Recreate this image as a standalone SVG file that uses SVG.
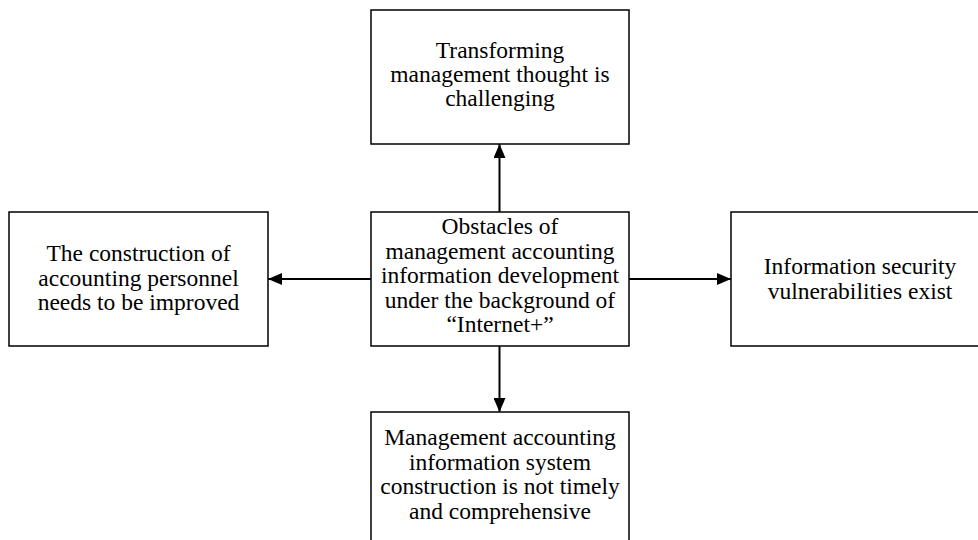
<svg xmlns="http://www.w3.org/2000/svg" width="978" height="540" viewBox="0 0 978 540">
<defs>
<style>
.box{fill:#fff;stroke:#000;stroke-width:1.5}
.t{font-family:"Liberation Serif","Times New Roman",serif;font-size:23.5px;fill:#000;text-anchor:middle}
.c{stroke:#000;stroke-width:2;fill:none}
</style>
<marker id="ah" viewBox="0 0 14 12" refX="14" refY="6" markerWidth="14" markerHeight="12" markerUnits="userSpaceOnUse" orient="auto">
<path d="M0,0 L14,6 L0,12 Z" fill="#000"/>
</marker>
</defs>
<rect width="978" height="540" fill="#fff"/>
<g id="connectors">
<line class="c" x1="499.5" y1="212" x2="499.5" y2="144" marker-end="url(#ah)"/>
<line class="c" x1="499.5" y1="346" x2="499.5" y2="412" marker-end="url(#ah)"/>
<line class="c" x1="371" y1="279" x2="268" y2="279" marker-end="url(#ah)"/>
<line class="c" x1="629" y1="279" x2="731" y2="279" marker-end="url(#ah)"/>
</g>
<g id="top">
<rect class="box" x="371" y="10" width="258" height="134"/>
<text class="t" x="500" y="58">Transforming</text>
<text class="t" x="500" y="82">management thought is</text>
<text class="t" x="500" y="106">challenging</text>
</g>
<g id="center">
<rect class="box" x="371" y="212" width="258" height="134"/>
<text class="t" x="500" y="234">Obstacles of</text>
<text class="t" x="500" y="258.5">management accounting</text>
<text class="t" x="500" y="283">information development</text>
<text class="t" x="500" y="307.5">under the background of</text>
<text class="t" x="500" y="332">“Internet+”</text>
</g>
<g id="left">
<rect class="box" x="9" y="212" width="259" height="134"/>
<text class="t" x="138.5" y="261">The construction of</text>
<text class="t" x="138.5" y="285.5">accounting personnel</text>
<text class="t" x="138.5" y="310">needs to be improved</text>
</g>
<g id="right">
<rect class="box" x="731" y="212" width="258" height="134"/>
<text class="t" x="860" y="274">Information security</text>
<text class="t" x="860" y="298.5">vulnerabilities exist</text>
</g>
<g id="bottom">
<rect class="box" x="371" y="412" width="258" height="134"/>
<text class="t" x="500" y="445">Management accounting</text>
<text class="t" x="500" y="469.5">information system</text>
<text class="t" x="500" y="494">construction is not timely</text>
<text class="t" x="500" y="518.5">and comprehensive</text>
</g>
</svg>
